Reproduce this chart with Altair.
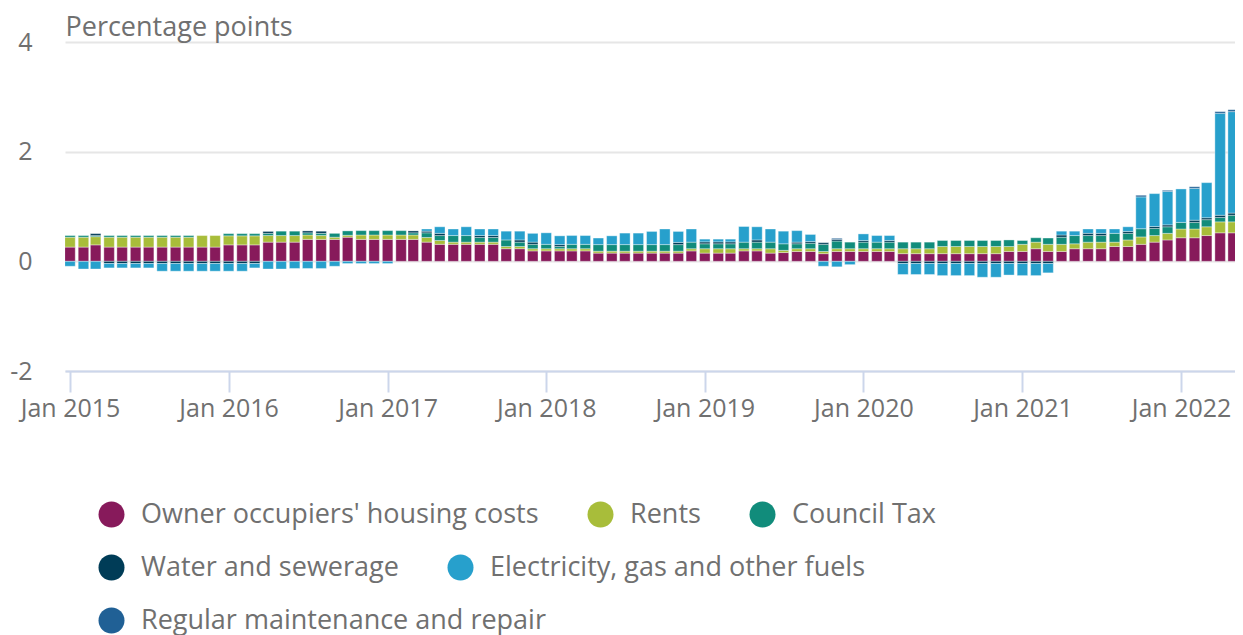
import altair as alt
import pandas as pd

# Monthly categories, Jan 2015 .. Jun 2022
months = pd.date_range("2015-01-01", "2022-06-01", freq="MS").strftime("%Y-%m-%d").tolist()

series_names = [
    "Owner occupiers' housing costs",
    "Rents",
    "Council Tax",
    "Water and sewerage",
    "Electricity, gas and other fuels",
    "Regular maintenance and repair",
]
series_colors = ["#871a5b", "#a8bd3a", "#118c7b", "#003c57", "#27a0cc", "#206095"]

ooh = [
    .26, .26, .30, .26, .26, .26, .26, .26, .26, .26, .26, .26,
    .30, .30, .30, .35, .35, .35, .40, .40, .40, .44, .40, .40,
    .40, .40, .40, .35, .31, .31, .31, .31, .31, .23, .23, .19,
    .19, .19, .19, .19, .15, .15, .15, .15, .15, .15, .15, .19,
    .15, .15, .15, .19, .19, .15, .16, .18, .18, .14, .18, .18,
    .18, .18, .18, .14, .14, .14, .14, .14, .14, .14, .14, .18,
    .18, .23, .18, .18, .23, .23, .23, .27, .27, .31, .35, .39,
    .43, .43, .47, .52, .52, .52,
]
rents = [
    .18, .18, .15, .18, .18, .18, .18, .18, .18, .18, .21, .21,
    .165, .165, .165, .12, .12, .12, .08, .07, .04, .035, .08, .08,
    .08, .08, .08, .085, .07, .04, .04, .04, .04, .04, .04, .04,
    .04, .04, .04, .04, .035, .035, .035, .035, .035, .035, .035, .04,
    .08, .08, .08, .04, .04, .08, .04, .05, .05, .04, .05, .05,
    .05, .05, .05, .09, .09, .09, .13, .13, .13, .13, .13, .09,
    .13, .12, .13, .13, .09, .12, .12, .08, .12, .135, .12, .12,
    .16, .16, .16, .20, .20, .20,
]
council_tax = [
    .03, .03, .02, .03, .03, .03, .03, .03, .03, .03, 0, 0,
    .04, .04, .04, .04, .08, .08, .04, .04, .07, .08, .08, .08,
    .08, .08, .04, .085, .09, .12, .12, .085, .085, .12, .08, .08,
    .08, .04, .08, .08, .12, .12, .12, .12, .12, .12, .12, .12,
    .09, .09, .09, .12, .12, .12, .12, .09, .10, .13, .14, .12,
    .12, .12, .12, .12, .12, .12, .11, .11, .11, .11, .11, .12,
    .07, .08, .115, .13, .15, .12, .12, .16, .12, .15, .13, .12,
    .12, .12, .13, .08, .12, .13,
]
water = [
    0, 0, .035, -.04, -.04, -.04, -.04, -.04, -.04, -.04, -.04, -.04,
    -.04, -.04, -.04, .035, 0, 0, .035, .04, 0, 0, 0, 0,
    0, 0, .035, .03, .04, 0, 0, .035, .035, 0, .04, .04,
    0, .035, 0, 0, 0, 0, 0, 0, 0, 0, .04, 0,
    .035, .035, .035, 0, .04, 0, 0, .03, .03, .03, .03, 0,
    .03, 0, .03, -.04, -.04, -.04, -.04, -.04, -.04, -.04, -.04, -.04,
    -.04, -.04, -.04, .04, 0, .04, .04, 0, .035, 0, .035, .035,
    0, .04, .035, .04, .04, .04,
]
electricity = [
    -.09, -.14, -.14, -.08, -.08, -.08, -.08, -.14, -.14, -.14, -.14, -.14,
    -.14, -.14, -.08, -.14, -.14, -.13, -.13, -.13, -.09, -.04, -.04, -.04,
    -.04, 0, 0, .04, .12, .12, .16, .12, .12, .16, .16, .16,
    .21, .16, .16, .16, .12, .16, .21, .21, .24, .285, .20, .24,
    .05, .05, .05, .285, .24, .24, .23, .21, .13, -.09, -.10, -.06,
    .12, .12, .09, -.20, -.20, -.20, -.22, -.22, -.22, -.25, -.25, -.21,
    -.22, -.22, -.17, .07, .08, .08, .08, .08, .085, .58, .60, .61,
    .61, .58, .64, 1.86, 1.85, 1.88,
]
maintenance = [
    0, 0, 0, 0, 0, 0, 0, 0, 0, 0, 0, 0,
    0, 0, 0, 0, 0, 0, 0, 0, 0, 0, 0, 0,
    0, 0, 0, 0, 0, 0, 0, 0, 0, 0, 0, 0,
    0, 0, 0, 0, 0, 0, 0, 0, 0, 0, 0, 0,
    0, 0, 0, 0, 0, 0, 0, 0, 0, 0, .02, 0,
    0, 0, 0, 0, 0, 0, 0, 0, 0, 0, 0, 0,
    0, 0, 0, 0, 0, 0, 0, 0, 0, .03, 0, .02,
    0, .03, 0, .03, .035, .03,
]

year_ticks = [2015, 2016, 2017, 2018, 2019, 2020, 2021, 2022]
legend_rows = [series_names[0:3], series_names[3:5], series_names[5:6]]

all_values = [ooh, rents, council_tax, water, electricity, maintenance]
rows = []
for idx, (name, vals) in enumerate(zip(series_names, all_values)):
    for m, v in zip(months, vals):
        rows.append({"date": m + "T00:00:00", "series": name, "value": v, "idx": idx})
df = pd.DataFrame(rows)

FONT = "Open Sans"
GREY = "#707070"

x_enc = alt.X(
    "date:T",
    scale=alt.Scale(domain=[alt.DateTime(year=2014, month=12, date=20, hours=12),
                            alt.DateTime(year=2022, month=5, date=5, hours=5)],
                    nice=False, padding=0),
    axis=alt.Axis(
        values=[alt.DateTime(year=y, month=1, date=1) for y in year_ticks],
        format="%b %Y", title=None, grid=False,
        labelFont=FONT, labelFontSize=25, labelColor=GREY, labelPadding=4,
        labelFlush=False, labelOverlap=False, labelBound=False,
        domainColor="#ccd6eb", domainWidth=2, tickColor="#ccd6eb", tickWidth=2, tickSize=21,
    ),
)
y_enc = alt.Y(
    "value:Q", stack="zero",
    scale=alt.Scale(domain=[-2, 4], nice=False, zero=False),
    axis=alt.Axis(
        values=[-2, 0, 2, 4], labelExpr="datum.value + ''",
        title="Percentage points", titleAngle=0, titleAlign="left", titleAnchor="start",
        titleX=0, titleY=-7, titleBaseline="alphabetic",
        titleFont=FONT, titleFontSize=27, titleFontWeight="normal", titleColor=GREY,
        labelFont=FONT, labelFontSize=25, labelColor=GREY, labelPadding=33,
        ticks=False, domain=False, grid=True, gridColor="#e6e6e6", gridWidth=2,
    ),
)

bars = alt.Chart(df).transform_filter("datum.value != 0").mark_bar(
    width=10.5, stroke="white", strokeWidth=0.6, strokeOpacity=0.6, clip=True
).encode(
    x=x_enc,
    y=y_enc,
    color=alt.Color("series:N", scale=alt.Scale(domain=series_names, range=series_colors), legend=None),
    order=alt.Order("idx:Q", sort="ascending"),
)

legend_layers = []
row_y = [459, 512, 565]
for names_sub, ly in zip(legend_rows, row_y):
    cols_sub = [series_colors[series_names.index(n)] for n in names_sub]
    layer = alt.Chart(df).transform_filter(
        alt.FieldOneOfPredicate(field="series", oneOf=names_sub)
    ).mark_point(filled=True, opacity=0, shape="circle").encode(
        color=alt.Color(
            "series:N",
            scale=alt.Scale(domain=names_sub, range=cols_sub),
            legend=alt.Legend(
                orient="none", legendX=33, legendY=ly, direction="horizontal", title=None,
                symbolType="circle", symbolSize=676, symbolOpacity=1, symbolStrokeWidth=0,
                labelFont=FONT, labelFontSize=27, labelColor=GREY, labelOffset=16,
                labelLimit=0, columnPadding=48, padding=0, gridAlign="none",
            ),
        )
    )
    legend_layers.append(layer)

chart = alt.layer(bars, *legend_layers).resolve_scale(color="independent").properties(
    width=1170, height=329,
    autosize=alt.AutoSizeParams(type="none"),
    padding={"left": 57, "top": 34, "right": 0, "bottom": 264},
).configure_view(stroke=None)

chart.save("out.html", embed_options={"renderer": "svg", "actions": False})
